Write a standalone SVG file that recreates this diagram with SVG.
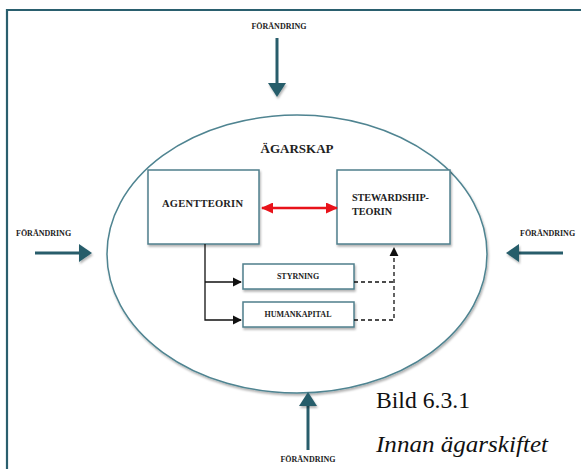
<svg xmlns="http://www.w3.org/2000/svg" width="581" height="469" viewBox="0 0 581 469">
  <style>
    .lbl { font-family: "Liberation Serif", "DejaVu Serif", serif; font-weight: bold; fill: #222; }
    .small { font-size: 8px; }
    .box { fill: #fff; stroke: #4f7f8c; stroke-width: 1.5; filter: url(#shadow); }
    .force { stroke: #285d6b; stroke-width: 3; fill: none; }
    .solid { stroke: #111; stroke-width: 1.3; fill: none; }
    .dash { stroke: #111; stroke-width: 1.3; fill: none; stroke-dasharray: 4 3; }
    .caption { font-family: "Liberation Serif", "DejaVu Serif", serif; font-size: 23px; fill: #111; }
  </style>
  <defs>
    <filter id="shadow" x="-10%" y="-10%" width="130%" height="140%">
      <feDropShadow dx="1" dy="2" stdDeviation="1.2" flood-color="#000" flood-opacity="0.3"/>
    </filter>
    <marker id="blk" viewBox="0 0 10 10" refX="9" refY="5" markerWidth="7" markerHeight="7" orient="auto">
      <path d="M0,0 L10,5 L0,10 z" fill="#111"/>
    </marker>
    <marker id="red" viewBox="0 0 12 11" refX="11" refY="5.5" markerUnits="userSpaceOnUse" markerWidth="12" markerHeight="11" orient="auto-start-reverse">
      <path d="M0,0 L12,5.5 L0,11 z" fill="#e8121a"/>
    </marker>
  </defs>

  <rect width="581" height="469" fill="#fff"/>

  <!-- outer frame -->
  <path d="M7,469 L7,10 L581,10" fill="none" stroke="#2a5f6e" stroke-width="2.2"/>

  <!-- ownership ellipse -->
  <g id="agarskap">
    <ellipse cx="297" cy="254" rx="190" ry="139" fill="#fff" stroke="#4f8491" stroke-width="1.5" filter="url(#shadow)"/>
    <text class="lbl" x="297" y="153" font-size="13" text-anchor="middle">ÄGARSKAP</text>
  </g>

  <!-- external change forces -->
  <g id="force-top">
    <text class="lbl small" x="279" y="29" text-anchor="middle">FÖRÄNDRING</text>
    <line class="force" x1="277" y1="38" x2="277" y2="84"/>
    <path d="M268,83 L286,83 L277,97 z" fill="#285d6b" filter="url(#shadow)"/>
  </g>
  <g id="force-left">
    <text class="lbl small" x="16" y="236">FÖRÄNDRING</text>
    <line class="force" x1="35" y1="253" x2="80" y2="253"/>
    <path d="M79,244 L79,262 L92,253 z" fill="#285d6b" filter="url(#shadow)"/>
  </g>
  <g id="force-right">
    <text class="lbl small" x="520" y="236">FÖRÄNDRING</text>
    <line class="force" x1="563" y1="253" x2="518" y2="253"/>
    <path d="M519,244 L519,262 L506,253 z" fill="#285d6b" filter="url(#shadow)"/>
  </g>
  <g id="force-bottom">
    <text class="lbl small" x="308" y="462" text-anchor="middle">FÖRÄNDRING</text>
    <line class="force" x1="308" y1="450" x2="308" y2="405"/>
    <path d="M299,406 L317,406 L308,392 z" fill="#285d6b" filter="url(#shadow)"/>
  </g>

  <!-- theory boxes -->
  <g id="agentteorin">
    <rect class="box" x="148" y="170" width="111" height="74"/>
    <text class="lbl" x="162" y="207" font-size="10.5" textLength="81">AGENTTEORIN</text>
  </g>
  <g id="stewardship">
    <rect class="box" x="337" y="170" width="113" height="74"/>
    <text class="lbl" x="352" y="201" font-size="10.2" textLength="77">STEWARDSHIP-</text>
    <text class="lbl" x="352" y="215" font-size="10.2">TEORIN</text>
  </g>
  <g id="styrning">
    <rect class="box" x="243" y="264" width="111" height="25"/>
    <text class="lbl small" x="298" y="279" text-anchor="middle">STYRNING</text>
  </g>
  <g id="humankapital">
    <rect class="box" x="243" y="302" width="111" height="25"/>
    <text class="lbl small" x="298" y="317" text-anchor="middle">HUMANKAPITAL</text>
  </g>

  <!-- connectors -->
  <g id="connectors">
    <line x1="262" y1="208" x2="337" y2="208" stroke="#e8121a" stroke-width="2.5" marker-start="url(#red)" marker-end="url(#red)"/>
    <path class="solid" d="M205,244 L205,320 L241,320" marker-end="url(#blk)"/>
    <path class="solid" d="M205,282 L241,282" marker-end="url(#blk)"/>
    <path class="dash" d="M354,282 L394,282"/>
    <path class="dash" d="M354,320 L394,320 L394,248" marker-end="url(#blk)"/>
  </g>

  <!-- caption -->
  <text class="caption" x="376" y="408" textLength="94" lengthAdjust="spacingAndGlyphs">Bild 6.3.1</text>
  <text class="caption" x="376" y="452" font-style="italic" textLength="172" lengthAdjust="spacingAndGlyphs">Innan ägarskiftet</text>
</svg>
